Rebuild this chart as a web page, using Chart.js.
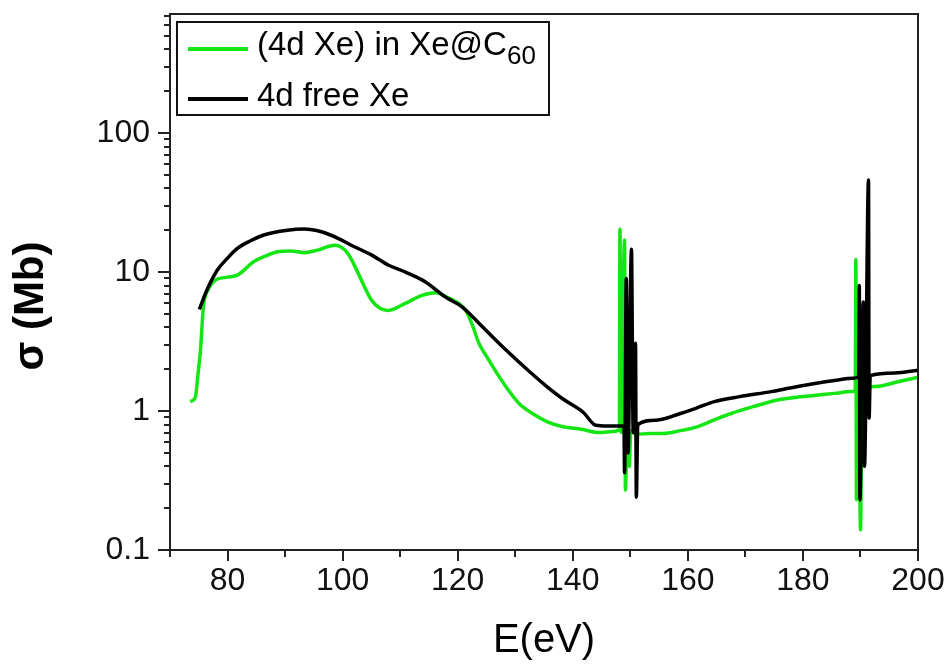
<!DOCTYPE html>
<html><head><meta charset="utf-8">
<script src="https://cdn.jsdelivr.net/npm/chart.js@4.4.1/dist/chart.umd.min.js"></script>
<style>html,body{margin:0;padding:0;background:#fff}#wrap{position:relative;width:951px;height:667px}</style>
</head><body><div id="wrap"><canvas id="c" width="951" height="667"></canvas></div>
<script>
// ---- data ----
const energyC60 = [73.5,74.4,74.9,75.3,75.8,76.7,77.9,80.0,81.7,84.6,86.5,88.7,91.0,93.3,95.7,98.6,100.4,101.6,102.7,105.0,106.5,108.0,110.9,113.8,116.1,118.5,121.4,122.5,123.7,125.5,127.2,129.0,130.7,133.0,135.5,138.3,141.5,144.5,146.5,148.1,148.2,148.4,149.0,149.15,149.5,149.8,150.1,151.0,153.5,155.8,158.5,161.6,164.5,167.5,171.5,175.6,178.5,181.5,185.5,188.5,189.1,189.2,189.3,189.75,190.0,190.3,192.6,196.7,200.0];
const sigmaC60  = [1.17,1.26,1.9,2.75,5.6,7.6,8.75,9.2,9.5,11.9,13.0,14.0,14.2,13.8,14.4,15.6,14.4,12.2,9.8,6.3,5.5,5.3,5.96,6.8,7.1,6.5,5.3,4.2,3.07,2.3,1.77,1.38,1.13,0.96,0.84,0.77,0.74,0.70,0.71,0.73,20.3,0.7,17,0.27,0.9,0.4,0.72,0.68,0.69,0.69,0.72,0.77,0.86,0.96,1.08,1.2,1.25,1.29,1.34,1.38,1.40,12.3,0.23,1.2,0.14,1.45,1.5,1.63,1.75];
const energyFree = [75.1,76.4,78.2,80.0,81.7,84.0,86.3,90.4,93.3,96.3,99.2,101.5,105.0,108.0,110.9,114.4,117.9,120.8,124.3,128.4,132.8,135.5,138.3,141.8,144.0,146.0,148.9,149.0,149.3,149.6,150.2,150.5,150.9,151.05,151.3,154.5,158.7,161.5,164.6,169.0,174.5,178.0,182.1,185.5,188.8,189.7,189.8,189.9,190.5,190.7,191.4,191.5,191.7,196.0,200.0];
const sigmaFree  = [5.4,7.4,10.3,12.6,14.8,16.8,18.5,20.0,20.4,19.5,17.5,15.6,13.3,11.2,10.0,8.5,6.6,5.6,4.04,2.75,1.87,1.5,1.22,0.98,0.79,0.78,0.78,0.36,9.0,0.5,14.6,0.7,3.07,0.24,0.8,0.86,0.96,1.05,1.17,1.27,1.38,1.47,1.58,1.66,1.72,1.78,8.0,0.23,6.1,0.4,46,0.89,1.8,1.88,1.97];
const seriesLabels = ['(4d Xe) in Xe@C60', '4d free Xe'];
const seriesColors = ['#14e614', '#000000'];
const xMajorTicks = [80,100,120,140,160,180,200];
const xMinorTicks = [70,90,110,130,150,170,190];
const yMajorTicks = [0.1,1,10,100];
const yMinorTicks = [0.2,0.3,0.4,0.5,0.6,0.7,0.8,0.9,2,3,4,5,6,7,8,9,20,30,40,50,60,70,80,90,200,300,400,500,600,700];
const xRange = [70, 200];
const yRange = [0.1, 720];

const FONT = '"Liberation Sans", Arial, sans-serif';
const AXIS = '#222';

const decorPlugin = {
  id: 'decor',
  afterDraw(chart) {
    const ctx = chart.ctx, a = chart.chartArea;
    const xs = chart.scales.x, ys = chart.scales.y;
    ctx.save();
    ctx.strokeStyle = AXIS; ctx.lineWidth = 2;
    ctx.beginPath();
    ctx.moveTo(a.left, a.top); ctx.lineTo(a.right, a.top); ctx.lineTo(a.right, a.bottom);
    ctx.stroke();
    ctx.beginPath();
    xMajorTicks.forEach(v => { const p = Math.round(xs.getPixelForValue(v)); ctx.moveTo(p, a.bottom); ctx.lineTo(p, a.bottom + 11); });
    xMinorTicks.forEach(v => { const p = Math.round(xs.getPixelForValue(v)); ctx.moveTo(p, a.bottom); ctx.lineTo(p, a.bottom + 7); });
    yMajorTicks.forEach(v => { const p = Math.round(ys.getPixelForValue(v)); ctx.moveTo(a.left, p); ctx.lineTo(a.left - 12, p); });
    yMinorTicks.forEach(v => { const p = Math.round(ys.getPixelForValue(v)); ctx.moveTo(a.left, p); ctx.lineTo(a.left - 6, p); });
    ctx.stroke();
    ctx.save();
    ctx.translate(31, 306); ctx.rotate(-Math.PI / 2);
    ctx.fillStyle = '#000'; ctx.font = 'bold 42px ' + FONT;
    ctx.textAlign = 'center'; ctx.textBaseline = 'middle';
    ctx.fillText('\u03c3 (Mb)', 0, 0);
    ctx.restore();
    const bx = 177, by = 22, bw = 372, bh = 93;
    ctx.fillStyle = '#fff'; ctx.fillRect(bx, by, bw, bh);
    ctx.lineWidth = 2; ctx.strokeStyle = '#111';
    ctx.strokeRect(bx, by, bw, bh);
    const rows = [49, 99];
    chart.data.datasets.forEach((ds, i) => {
      const y = rows[i];
      ctx.strokeStyle = ds.borderColor; ctx.lineWidth = 4;
      ctx.beginPath(); ctx.moveTo(188, y); ctx.lineTo(248, y); ctx.stroke();
      ctx.fillStyle = '#000'; ctx.textAlign = 'left'; ctx.textBaseline = 'middle';
      ctx.font = '33px ' + FONT;
      const m = ds.label.match(/^(.*C)(\d+)$/);
      if (m) {
        ctx.fillText(m[1], 257, y - 3);
        const w = ctx.measureText(m[1]).width;
        ctx.font = '26px ' + FONT;
        ctx.fillText(m[2], 257 + w, y + 8);
      } else {
        ctx.fillText(ds.label, 257, y - 2);
      }
    });
    ctx.restore();
  }
};

function pts(xs, ys) { return xs.map((x, i) => ({x: x, y: ys[i]})); }

new Chart(document.getElementById('c'), {
  type: 'line',
  data: {
    datasets: [
      { label: seriesLabels[0], data: pts(energyC60, sigmaC60), borderColor: seriesColors[0], borderWidth: 3.5, pointRadius: 0, order: 1, cubicInterpolationMode: 'monotone', fill: false },
      { label: seriesLabels[1], data: pts(energyFree, sigmaFree), borderColor: seriesColors[1], borderWidth: 3.5, pointRadius: 0, order: 0, cubicInterpolationMode: 'monotone', fill: false }
    ]
  },
  options: {
    responsive: false, animation: false, devicePixelRatio: 1,
    layout: { padding: { top: 14, right: 33, left: 0, bottom: 0 } },
    plugins: { legend: { display: false }, tooltip: { enabled: false } },
    scales: {
      x: {
        type: 'linear', min: xRange[0], max: xRange[1],
        afterBuildTicks: s => { s.ticks = xMajorTicks.map(v => ({ value: v })); },
        afterFit: s => { s.height = 117; s.paddingLeft = 0; s.paddingRight = 0; },
        ticks: { font: { family: FONT, size: 32 }, color: '#111', padding: 12, maxRotation: 0, autoSkip: false },
        grid: { drawOnChartArea: false, drawTicks: false },
        border: { display: true, color: AXIS, width: 2 },
        title: { display: true, text: 'E(eV)', font: { family: FONT, size: 40 }, color: '#000', padding: { top: 0, bottom: 2 } }
      },
      y: {
        type: 'logarithmic', min: yRange[0], max: yRange[1],
        afterBuildTicks: s => { s.ticks = yMajorTicks.map(v => ({ value: v })); },
        afterFit: s => { s.width = 170; s.paddingTop = 0; s.paddingBottom = 0; },
        ticks: { font: { family: FONT, size: 32 }, color: '#111', padding: 20, autoSkip: false, callback: v => String(v) },
        grid: { drawOnChartArea: false, drawTicks: false },
        border: { display: true, color: AXIS, width: 2 }
      }
    }
  },
  plugins: [decorPlugin]
});
</script>
</body></html>
